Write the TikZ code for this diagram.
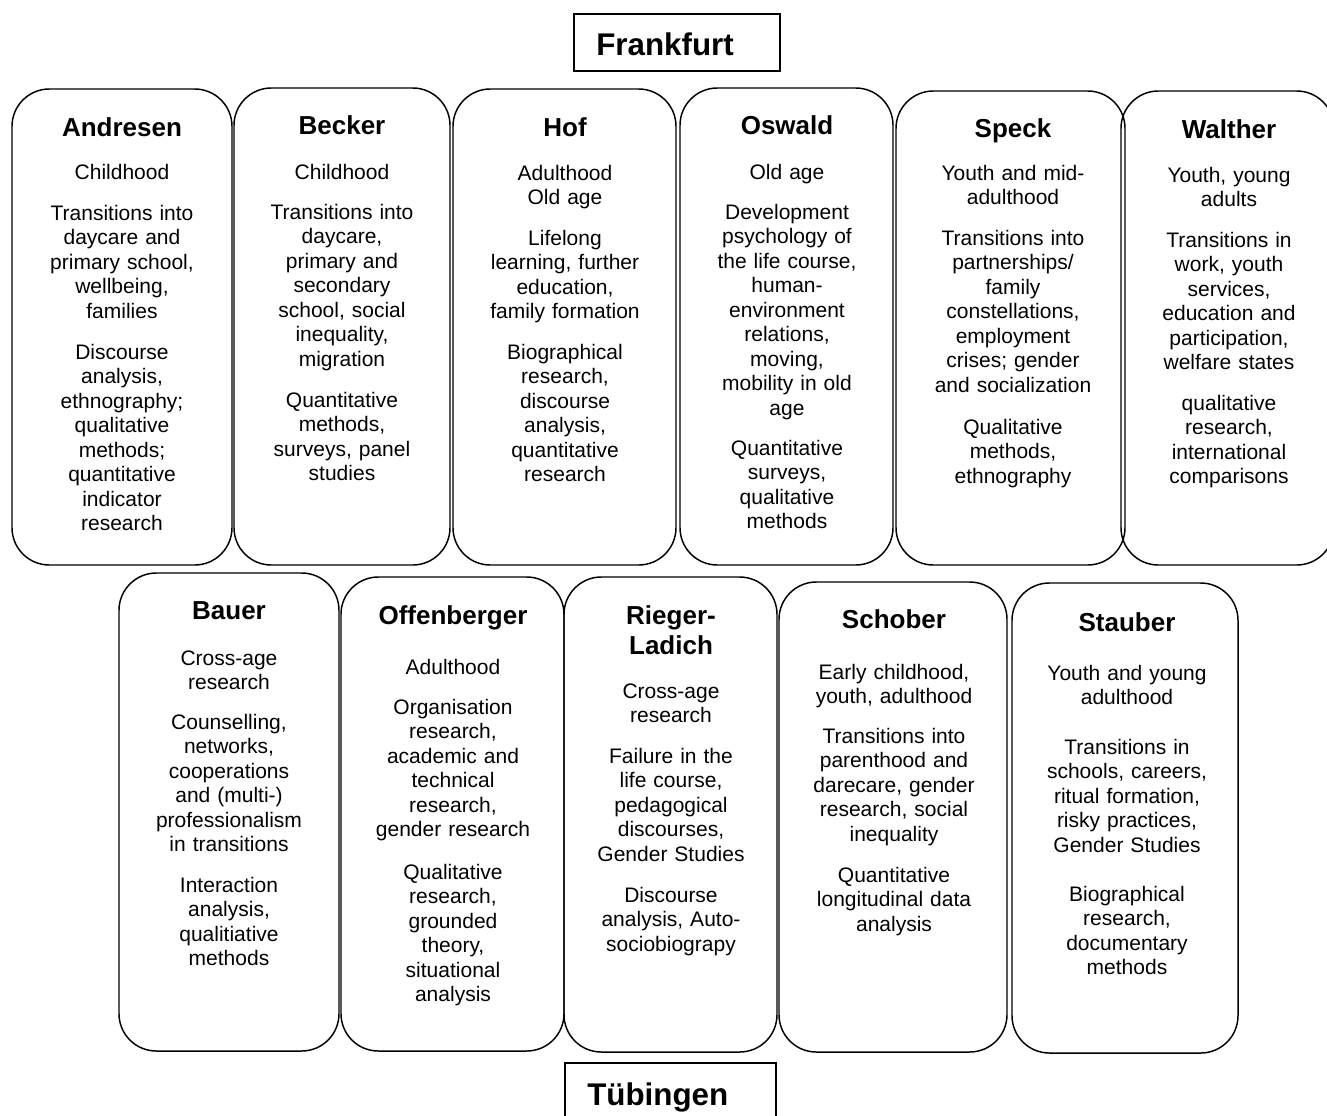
\documentclass[tikz,border=0pt]{standalone}
\usepackage{fontspec}
\setmainfont{Liberation Sans}
\usetikzlibrary{fit}
\begin{document}
\begin{tikzpicture}[x=0.75pt,y=-0.75pt,
  card/.style={draw, line width=1.1pt, rounded corners=28pt, inner sep=0pt},
  titlebox/.style={draw, line width=1.1pt, inner sep=0pt},
  ttl/.style={font=\fontsize{23.5pt}{27pt}\selectfont\bfseries, anchor=base west, inner sep=0pt},
  hd/.style={font=\fontsize{19.5pt}{22.5pt}\selectfont\bfseries, text width=200pt, align=center, anchor=base, inner sep=0pt},
  bd/.style={font=\fontsize{15.75pt}{18.375pt}\selectfont, text width=200pt, align=center, anchor=base, inner sep=0pt}]
\path[use as bounding box] (0,0) rectangle (1327,1115);
\clip (0,0) rectangle (1327,1115);

% titles
\node[titlebox, fit={(574,14) (780,71)}] (fbox) {};
\node[ttl] (ftext) at (596,55) {Frankfurt};
\node[titlebox, fit={(565,1063) (776,1135)}] (tbox) {};
\node[ttl] (ttext) at (587,1105) {Tübingen};

% ---------- top row ----------
\node[card, fit={(12,89) (232,565)}] (andresen) {};
\node[hd] (andresenH) at (122,136) {Andresen};
\node[bd] (andresen1) at (122,179) {Childhood};
\node[bd] (andresen2) at (122,220) {Transitions into\\daycare and\\primary school,\\wellbeing,\\families};
\node[bd] (andresen3) at (122,359) {Discourse\\analysis,\\ethnography;\\qualitative\\methods;\\quantitative\\indicator\\research};

\node[card, fit={(234,88) (450,565)}] (becker) {};
\node[hd] (beckerH) at (342,134) {Becker};
\node[bd] (becker1) at (342,179) {Childhood};
\node[bd] (becker2) at (342,219) {Transitions into\\daycare,\\primary and\\secondary\\school, social\\inequality,\\migration};
\node[bd] (becker3) at (342,407) {Quantitative\\methods,\\surveys, panel\\studies};

\node[card, fit={(453,89) (676,565)}] (hof) {};
\node[hd] (hofH) at (565,136) {Hof};
\node[bd] (hof1) at (565,180) {Adulthood\\Old age};
\node[bd] (hof2) at (565,245) {Lifelong\\learning, further\\education,\\family formation};
\node[bd] (hof3) at (565,359) {Biographical\\research,\\discourse\\analysis,\\quantitative\\research};

\node[card, fit={(680,88) (893,565)}] (oswald) {};
\node[hd] (oswaldH) at (787,134) {Oswald};
\node[bd] (oswald1) at (787,179) {Old age};
\node[bd] (oswald2) at (787,219) {Development\\psychology of\\the life course,\\human-\\environment\\relations,\\moving,\\mobility in old\\age};
\node[bd] (oswald3) at (787,455) {Quantitative\\surveys,\\qualitative\\methods};

\node[card, fit={(896,91) (1125,565)}] (speck) {};
\node[hd] (speckH) at (1013,137) {Speck};
\node[bd] (speck1) at (1013,180) {Youth and mid-\\adulthood};
\node[bd] (speck2) at (1013,245) {Transitions into\\partnerships/\\family\\constellations,\\employment\\crises; gender\\and socialization};
\node[bd] (speck3) at (1013,434) {Qualitative\\methods,\\ethnography};

\node[card, fit={(1121,91) (1334,565)}] (walther) {};
\node[hd] (waltherH) at (1229,138) {Walther};
\node[bd] (walther1) at (1229,182) {Youth, young\\adults};
\node[bd] (walther2) at (1229,247) {Transitions in\\work, youth\\services,\\education and\\participation,\\welfare states};
\node[bd] (walther3) at (1229,410) {qualitative\\research,\\international\\comparisons};

% ---------- bottom row ----------
\node[card, fit={(119,573) (339,1051)}] (bauer) {};
\node[hd] (bauerH) at (229,619) {Bauer};
\node[bd] (bauer1) at (229,665) {Cross-age\\research};
\node[bd] (bauer2) at (229,729) {Counselling,\\networks,\\cooperations\\and (multi-)\\professionalism\\in transitions};
\node[bd] (bauer3) at (229,892) {Interaction\\analysis,\\qualitiative\\methods};

\node[card, fit={(341,577) (564,1051)}] (offenberger) {};
\node[hd] (offenbergerH) at (453,624) {Offenberger};
\node[bd] (offenberger1) at (453,674) {Adulthood};
\node[bd] (offenberger2) at (453,714) {Organisation\\research,\\academic and\\technical\\research,\\gender research};
\node[bd] (offenberger3) at (453,879) {Qualitative\\research,\\grounded\\theory,\\situational\\analysis};

\node[card, fit={(564,577) (777,1052)}] (rieger) {};
\node[hd] (riegerH) at (671,624) {Rieger-\\Ladich};
\node[bd] (rieger1) at (671,698) {Cross-age\\research};
\node[bd] (rieger2) at (671,763) {Failure in the\\life course,\\pedagogical\\discourses,\\Gender Studies};
\node[bd] (rieger3) at (671,902) {Discourse\\analysis, Auto-\\sociobiograpy};

\node[card, fit={(779,582) (1007,1052)}] (schober) {};
\node[hd] (schoberH) at (894,628) {Schober};
\node[bd] (schober1) at (894,679) {Early childhood,\\youth, adulthood};
\node[bd] (schober2) at (894,743) {Transitions into\\parenthood and\\darecare, gender\\research, social\\inequality};
\node[bd] (schober3) at (894,882) {Quantitative\\longitudinal data\\analysis};

\node[card, fit={(1012,583) (1238,1053)}] (stauber) {};
\node[hd] (stauberH) at (1127,631) {Stauber};
\node[bd] (stauber1) at (1127,680) {Youth and young\\adulthood};
\node[bd] (stauber2) at (1127,754) {Transitions in\\schools, careers,\\ritual formation,\\risky practices,\\Gender Studies};
\node[bd] (stauber3) at (1127,901) {Biographical\\research,\\documentary\\methods};
\end{tikzpicture}
\end{document}
